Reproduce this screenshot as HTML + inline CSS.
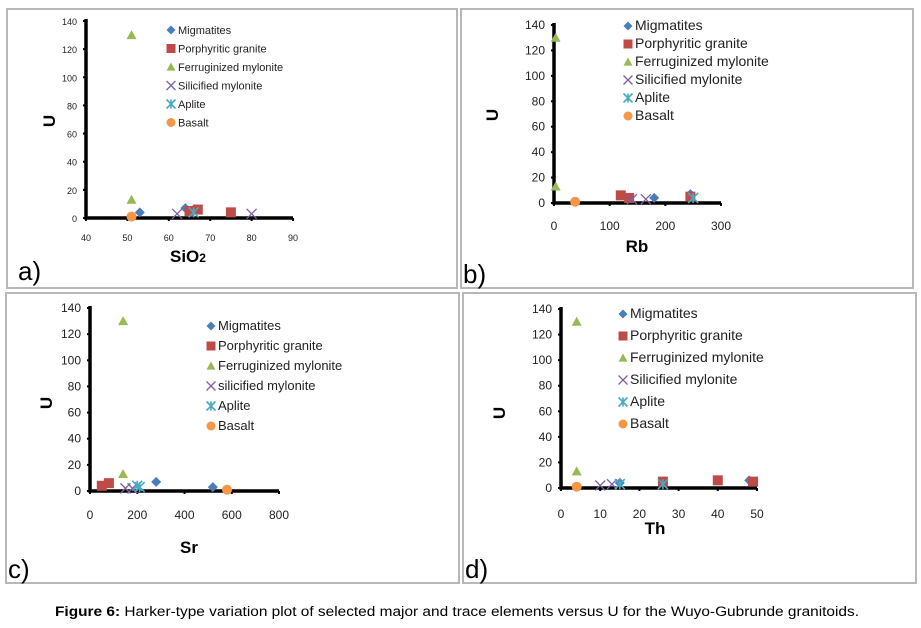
<!DOCTYPE html>
<html><head><meta charset="utf-8"><style>
body{margin:0;background:#fff;width:921px;height:628px;overflow:hidden;font-family:"Liberation Sans",sans-serif}
svg{display:block}
</style></head><body>
<svg id="fig" width="921" height="628" xmlns="http://www.w3.org/2000/svg">
<text x="457" y="616" text-anchor="middle" font-size="13.5" font-family="Liberation Sans, sans-serif" textLength="804" lengthAdjust="spacingAndGlyphs"><tspan font-weight="bold">Figure 6:</tspan> Harker-type variation plot of selected major and trace elements versus U for the Wuyo-Gubrunde granitoids.</text>
</svg>
<script>
const seriesNames=["Migmatites","Porphyritic granite","Ferruginized mylonite","Silicified mylonite","Aplite","Basalt"];
const seriesNamesC=["Migmatites","Porphyritic granite","Ferruginized mylonite","silicified mylonite","Aplite","Basalt"];
const yTicks=[0,20,40,60,80,100,120,140];
const xTicksA=[40,50,60,70,80,90];
const xTicksB=[0,100,200,300];
const xTicksC=[0,200,400,600,800];
const xTicksD=[0,10,20,30,40,50];
// data: [x,U] per series
const dataA=[[[53,4],[64,7]],[[65,5],[67,6],[75,4]],[[51,130],[51,13]],[[62,3],[80,3]],[[66,4]],[[51,1]]];
const dataB=[[[180,4],[245,7]],[[120,6],[135,4],[245,5]],[[3,130],[3,13]],[[140,3],[165,3]],[[250,4]],[[38,1]]];
const dataC=[[[280,7],[520,3]],[[50,4],[80,6]],[[140,130],[140,13]],[[150,2],[180,2]],[[210,3],[200,4]],[[580,1]]];
const dataD=[[[15,4],[48,6]],[[26,5],[40,6],[49,5]],[[4,130],[4,13]],[[10,2],[13,3]],[[15,3],[26,3]],[[4,1]]];

const colors=["#4a7ebb","#be4b48","#98b954","#7d60a0","#46aac5","#f79646"];
const NS="http://www.w3.org/2000/svg";
const svg=document.getElementById('fig');
function mk(tag,attrs,parent){const e=document.createElementNS(NS,tag);for(const k in attrs)e.setAttribute(k,attrs[k]);(parent||svg).appendChild(e);return e;}
function marker(g,i,x,y,s){
  const c=colors[i];let e;
  if(i===0){e=mk('polygon',{points:`${x},${y-s} ${x+s},${y} ${x},${y+s} ${x-s},${y}`,fill:c},g);}
  else if(i===1){e=mk('rect',{x:x-s,y:y-s,width:2*s,height:2*s,fill:c},g);}
  else if(i===2){e=mk('polygon',{points:`${x},${y-s} ${x+s},${y+s*0.8} ${x-s},${y+s*0.8}`,fill:c},g);}
  else if(i===3){e=mk('path',{d:`M${x-s},${y-s}L${x+s},${y+s}M${x+s},${y-s}L${x-s},${y+s}`,stroke:c,'stroke-width':1.3,fill:'none'},g);}
  else if(i===4){e=mk('path',{d:`M${x-s},${y-s}L${x+s},${y+s}M${x+s},${y-s}L${x-s},${y+s}M${x},${y-s}L${x},${y+s}`,stroke:c,'stroke-width':1.6,fill:'none'},g);}
  else {e=mk('circle',{cx:x,cy:y,r:s,fill:c},g);}
  return e;
}
function panel(p){
  const g=mk('g',{});
  
  
  const box=mk('rect',{x:p.box[0],y:p.box[1],width:p.box[2]-p.box[0],height:p.box[3]-p.box[1],fill:'#fff',stroke:'#b8b8b8','stroke-width':2},g);
  
  
  const xs=v=>p.x0+(v-p.xt[0])/(p.xt[p.xt.length-1]-p.xt[0])*(p.x1-p.x0);
  const ys=v=>p.y0-(v/140)*(p.y0-p.y1);
  const ax=mk('path',{d:`M${p.x0},${p.y1-2}L${p.x0},${p.y0}L${p.x1},${p.y0}`,stroke:'#000','stroke-width':3.5,fill:'none'},g);
  
  
  yTicks.forEach(t=>{
    mk('line',{x1:p.x0-3,x2:p.x0,y1:ys(t),y2:ys(t),stroke:'#000','stroke-width':2},g);
    const tx=mk('text',{x:p.x0-9,y:ys(t)+4,'text-anchor':'end','font-size':p.fs,fill:'#222'},g);
    tx.textContent=t;
    
    
  });
  p.xt.forEach(t=>{
    mk('line',{x1:xs(t),x2:xs(t),y1:p.y0,y2:p.y0+3,stroke:'#000','stroke-width':2},g);
    const tx=mk('text',{x:xs(t),y:p.xly,'text-anchor':'middle','font-size':p.fs,fill:'#222'},g);
    tx.textContent=t;
    
    
  });
  p.data.forEach((ser,i)=>ser.forEach(d=>{
    const m=marker(g,i,xs(d[0]),ys(d[1]),5);
    
    
  }));
  p.names.forEach((n,i)=>{
    const y=p.ly[0]+i*p.ly[1];
    const lg=mk('g',{},g);
    
    
    marker(lg,i,p.lx,y-4,4.5);
    const t=mk('text',{x:p.lx+7,y:y,'font-size':p.lfs,fill:'#222'},lg);
    t.textContent=n;
  });
  const yt=mk('text',{x:0,y:0,'font-size':17,'font-weight':'bold',transform:`translate(${p.yl[0]},${p.yl[1]}) rotate(-90)`,'text-anchor':'middle'},g);
  yt.textContent='U';
  
  
  const xt=mk('text',{x:p.xl[0],y:p.xl[1],'font-size':17,'font-weight':'bold','text-anchor':'middle'},g);
  xt.innerHTML=p.xlab;
  
  
  const lb=mk('text',{x:p.lab[0],y:p.lab[1],'font-size':26},g);
  lb.textContent=p.id+')';
  
  
}
panel({id:'a',box:[7,9,457,288],x0:86,x1:293,y0:218,y1:21,xt:xTicksA,xly:241,fs:9,data:dataA,names:seriesNames,lx:171,ly:[34,18.5],lfs:11,yl:[55,121],xl:[188,262],xlab:'SiO<tspan font-size="12">2</tspan>',lab:[18,280]});
panel({id:'b',box:[461,9,913,288],x0:554,x1:721,y0:203,y1:25,xt:xTicksB,xly:230,fs:12,data:dataB,names:seriesNames,lx:628,ly:[30,18],lfs:14,yl:[498,115],xl:[637,252],xlab:'Rb',lab:[463,283]});
panel({id:'c',box:[6,293,459,583],x0:90,x1:279,y0:491,y1:308,xt:xTicksC,xly:519,fs:12,data:dataC,names:seriesNamesC,lx:211,ly:[330,20],lfs:13,yl:[52,403],xl:[189,553],xlab:'Sr',lab:[8,578]});
panel({id:'d',box:[463,293,916,583],x0:561,x1:757,y0:488,y1:309,xt:xTicksD,xly:518,fs:12,data:dataD,names:seriesNames,lx:623,ly:[318,22],lfs:14,yl:[505,413],xl:[655,534],xlab:'Th',lab:[465,578]});
</script>
</body></html>
